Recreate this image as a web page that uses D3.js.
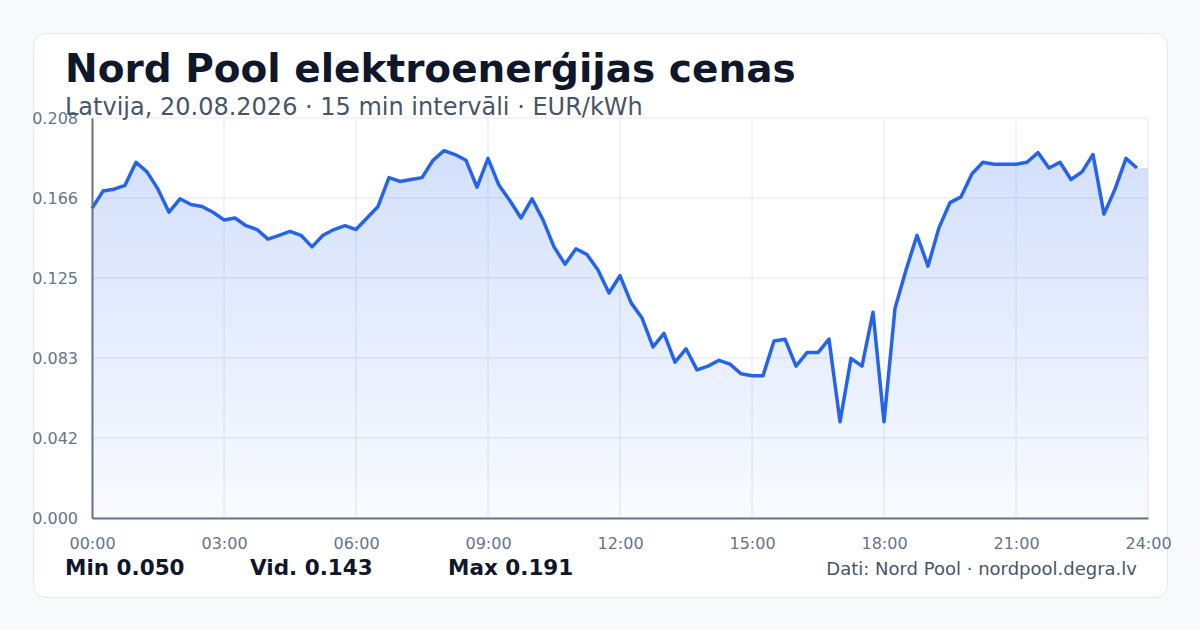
<!DOCTYPE html>
<html><head><meta charset="utf-8">
<script src="https://cdn.jsdelivr.net/npm/d3@7"></script>
<style>body{margin:0;background:#f8fafc;font-family:"DejaVu Sans",sans-serif}</style>
</head><body>
<script>
var prices = [0.161,0.170,0.171,0.173,0.185,0.180,0.171,0.159,0.166,0.163,0.162,0.159,
  0.155,0.156,0.152,0.150,0.145,0.147,0.149,0.147,0.141,0.147,0.150,0.152,
  0.150,0.156,0.162,0.177,0.175,0.176,0.177,0.186,0.191,0.189,0.186,0.172,
  0.187,0.173,0.165,0.156,0.166,0.155,0.141,0.132,0.140,0.137,0.129,0.117,
  0.126,0.112,0.104,0.089,0.096,0.081,0.088,0.077,0.079,0.082,0.080,0.075,
  0.074,0.074,0.092,0.093,0.079,0.086,0.086,0.093,0.050,0.083,0.079,0.107,
  0.050,0.109,0.129,0.147,0.131,0.151,0.164,0.167,0.179,0.185,0.184,0.184,
  0.184,0.185,0.190,0.182,0.185,0.176,0.180,0.189,0.158,0.171,0.187,0.182];
var yTicks = [0, 0.0416, 0.0832, 0.1248, 0.1664, 0.208];
var xTicks = [0, 3, 6, 9, 12, 15, 18, 21, 24];
var stats = [["Min", "0.050"], ["Vid.", "0.143"], ["Max", "0.191"]];

var data = prices.map(function(v, i){ return {h: i / 4, v: v}; });
var areaData = data.concat([{h: 24, v: prices[prices.length - 1]}]);

var svg = d3.select("body").append("svg").attr("width", 1200).attr("height", 630);
svg.append("rect").attr("x", 33.5).attr("y", 33.5).attr("width", 1134).attr("height", 564)
   .attr("rx", 12).attr("fill", "#fff").attr("stroke", "#e2e8f0");

var x = d3.scaleLinear().domain([0, 24]).range([92, 1148]),
    y = d3.scaleLinear().domain([0, 0.208]).range([518, 118]);

var grad = svg.append("defs").append("linearGradient").attr("id", "g")
   .attr("x1", 0).attr("x2", 0).attr("y1", 0).attr("y2", 1);
grad.append("stop").attr("offset", "0%").attr("stop-color", "#2563eb").attr("stop-opacity", 0.2);
grad.append("stop").attr("offset", "100%").attr("stop-color", "#2563eb").attr("stop-opacity", 0.03);

svg.append("g").selectAll("line").data(yTicks).join("line")
   .attr("x1", 92).attr("x2", 1148).attr("y1", d => y(d)).attr("y2", d => y(d))
   .attr("stroke", "#e2e8f0");
svg.append("g").selectAll("line").data(xTicks).join("line")
   .attr("y1", 118).attr("y2", 518).attr("x1", d => x(d)).attr("x2", d => x(d))
   .attr("stroke", "#e2e8f0");

svg.append("path").datum(areaData).attr("fill", "url(#g)")
   .attr("d", d3.area().x(d => x(d.h)).y0(518).y1(d => y(d.v)));
svg.append("path").datum(data).attr("fill", "none").attr("stroke", "#2563eb")
   .attr("stroke-width", 3.5).attr("stroke-linejoin", "round")
   .attr("d", d3.line().x(d => x(d.h)).y(d => y(d.v)));

var ya = svg.append("g").attr("transform", "translate(92,0)")
   .call(d3.axisLeft(y).tickValues(yTicks).tickSize(0).tickPadding(14).tickFormat(d3.format(".3f")));
var xa = svg.append("g").attr("transform", "translate(0,518)")
   .call(d3.axisBottom(x).tickValues(xTicks).tickSize(0).tickPadding(20)
   .tickFormat(d => String(d).padStart(2, "0") + ":00"));
[ya, xa].forEach(function(a){
  a.select(".domain").attr("stroke", "#64748b").attr("stroke-width", 2);
  a.selectAll("text").attr("fill", "#64748b").attr("font-size", 16).attr("font-family", "DejaVu Sans");
});

svg.append("text").attr("x", 65).attr("y", 82).attr("font-size", 39).attr("font-weight", "bold")
   .attr("fill", "#0f172a").text("Nord Pool elektroenerģijas cenas");
svg.append("text").attr("x", 65).attr("y", 115).attr("font-size", 24)
   .attr("fill", "#475569").text("Latvija, 20.08.2026 · 15 min intervāli · EUR/kWh");

svg.append("g").selectAll("text").data(stats).join("text")
   .attr("x", (d, i) => [65, 250, 448][i]).attr("y", 575)
   .attr("font-size", 21.5).attr("font-weight", "bold").attr("fill", "#0f172a")
   .text(d => d[0] + " " + d[1]);
svg.append("text").attr("x", 1137).attr("y", 575).attr("text-anchor", "end")
   .attr("font-size", 18).attr("fill", "#475569").text("Dati: Nord Pool · nordpool.degra.lv");
</script>
</body></html>
